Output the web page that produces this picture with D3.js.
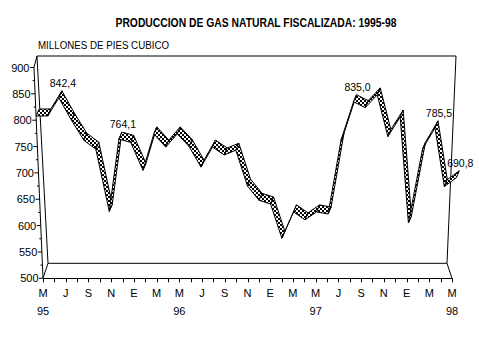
<!DOCTYPE html>
<html><head><meta charset="utf-8">
<script src="https://cdn.jsdelivr.net/npm/d3@7"></script>
<style>
body{margin:0;background:#fff;}
svg{display:block;font-family:"Liberation Sans",Arial,sans-serif;}
</style></head>
<body><svg id="c" width="479" height="359"></svg>
<script>
// ---- data ----
const monthIndex = d3.range(37); // May 1995 .. May 1998
const gasValues = [808,808,842.4,800,762,745,627,764.1,758,705,774,749,774,750,711,749,734,743,675,648,641,576,626,611,626,622,762,835.0,824,848,769,806,605,745,785.5,674,690.8];
const labelled = [[2,"842,4"],[7,"764,1"],[27,"835,0"],[34,"785,5"],[36,"690,8"]];
const xTickLabels = ["M","J","S","N","E","M","M","J","S","N","E","M","M","J","S","N","E","M","M"];
const yearLabels = [[0,"95"],[12,"96"],[24,"97"],[36,"98"]];
const yTicks = [500,550,600,650,700,750,800,850,900];
const yMinorTicks = [525,575,625,675,725,775,825,875];
const titleText = "PRODUCCION DE GAS NATURAL FISCALIZADA: 1995-98";
const unitText = "MILLONES DE PIES CUBICO";

const svg = d3.select("#c");
const x = d3.scaleLinear().domain([0,36]).range([43,452]);
const y = d3.scaleLinear().domain([500,900]).range([278.3,67.5]);
const cx = 247.5, k = 0.000209, base = 278.3;
const persp = (xf, yy) => cx + (xf - cx) * (1 + k * (base - yy));
const dBack = [3,-7];

// pattern
const defs = svg.append("defs");
const pat = defs.append("pattern").attr("id","chk").attr("width",4).attr("height",4).attr("patternUnits","userSpaceOnUse");
pat.append("rect").attr("width",4).attr("height",4).attr("fill","#fff");
pat.append("rect").attr("width",2).attr("height",2).attr("fill","#000");
pat.append("rect").attr("x",2).attr("y",2).attr("width",2).attr("height",2).attr("fill","#000");

// title
svg.append("text").attr("x",256).attr("y",27).attr("text-anchor","middle")
  .attr("font-size",13).attr("font-weight","bold").attr("textLength",281).attr("lengthAdjust","spacingAndGlyphs").text(titleText);
svg.append("text").attr("x",38).attr("y",49).attr("font-size",10)
  .attr("textLength",131).attr("lengthAdjust","spacingAndGlyphs").text(unitText);

// frame
const frame = svg.append("g").attr("fill","none").attr("stroke","#000").attr("stroke-width",1);
const yTop = y(900), yBot = y(500);
const bl = [persp(x(0),yBot)+5, yBot-15], br = [persp(x(36),yBot)-5, yBot-15];
const tl = [persp(x(0),yTop)+3, yTop-11.5], tr = [persp(x(36),yTop)-5, yTop-11.5];
frame.append("path").attr("d", d3.line()([tl,tr,br,bl,tl]));
frame.append("path").attr("d", d3.line()([[persp(x(0),yTop),yTop],tl]));
frame.append("path").attr("d", d3.line()([[x(0),yBot],bl]));
frame.append("path").attr("d", d3.line()([[x(36),yBot],br]));
// front y axis (slanted)
frame.append("path").attr("d", d3.line()([[persp(x(0),yBot),yBot],[persp(x(0),yTop),yTop]]));
// x axis
frame.append("path").attr("d", d3.line()([[x(0),yBot],[x(36),yBot]])).attr("shape-rendering","crispEdges");

// x ticks
const xt = svg.append("g");
xt.selectAll("line").data(monthIndex).join("line")
  .attr("x1",d=>Math.round(x(d))+0.5).attr("x2",d=>Math.round(x(d))+0.5)
  .attr("y1",yBot).attr("y2",yBot+4).attr("stroke","#000");
xt.selectAll("text.m").data(xTickLabels).join("text").attr("class","m")
  .attr("x",(d,i)=>x(i*2)).attr("y",297).attr("text-anchor","middle").attr("font-size",11).text(d=>d);
xt.selectAll("text.yr").data(yearLabels).join("text").attr("class","yr")
  .attr("x",d=>x(d[0])).attr("y",315).attr("text-anchor","middle").attr("font-size",11).text(d=>d[1]);

// y ticks
const yt = svg.append("g");
yt.selectAll("line.maj").data(yTicks).join("line").attr("class","maj")
  .attr("x1",d=>persp(x(0),y(d))).attr("x2",d=>persp(x(0),y(d))-4)
  .attr("y1",d=>y(d)).attr("y2",d=>y(d)).attr("stroke","#000");
yt.selectAll("line.min").data(yMinorTicks).join("line").attr("class","min")
  .attr("x1",d=>persp(x(0),y(d))).attr("x2",d=>persp(x(0),y(d))-2)
  .attr("y1",d=>y(d)).attr("y2",d=>y(d)).attr("stroke","#000");
yt.selectAll("text").data(yTicks).join("text")
  .attr("x",d=>persp(x(0),y(d))-4.5).attr("y",d=>y(d)+4).attr("text-anchor","end").attr("font-size",11).text(d=>d);

// ribbon
const front = gasValues.map((v,i)=>{const yy=y(v);return [persp(x(i),yy),yy];});
const back = front.map(p=>[p[0]+dBack[0],p[1]+dBack[1]]);
const segs = d3.range(gasValues.length-1).map(i=>[front[i],front[i+1],back[i+1],back[i]]);
svg.append("g").selectAll("path").data(segs).join("path")
  .attr("d",d=>d3.line()(d)+"Z").attr("fill","url(#chk)").attr("stroke","#000").attr("stroke-width",1).attr("stroke-linejoin","round");

// value labels
svg.append("g").selectAll("text").data(labelled).join("text")
  .attr("x",d=>back[d[0]][0]+1).attr("y",d=>back[d[0]][1]-4).attr("text-anchor","middle").attr("font-size",10.5).text(d=>d[1]);
</script></body></html>
